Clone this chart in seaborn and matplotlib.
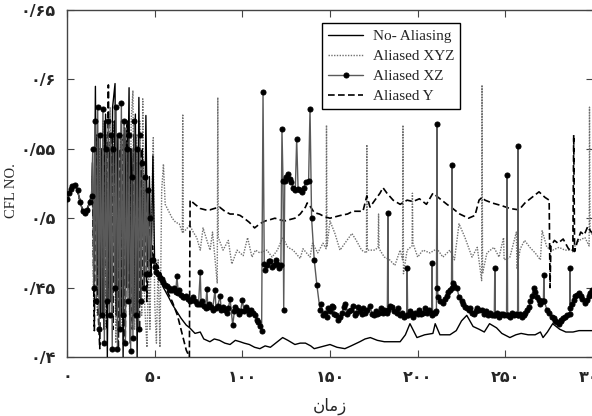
import matplotlib
matplotlib.use("Agg")
import matplotlib.pyplot as plt
import seaborn as sns

# ---- data (time vs CFL number) ----
start_x = [0, 1, 2, 3, 4.5, 6, 7.5, 9, 10, 11.5, 13, 14]
start_y = [0.514, 0.518, 0.521, 0.523, 0.524, 0.52, 0.512, 0.505, 0.504, 0.506, 0.512, 0.516]

# No- Aliasing (solid)
na_x = start_x + [14.5, 15.5, 16.2, 17, 18, 19, 20, 21, 22, 23, 24, 25, 26, 27.4, 28, 29, 30, 31, 32, 33,
                  34, 35.4, 36, 37, 38, 39, 40, 41, 42, 43, 44, 45, 46, 47, 48, 49, 50,
                  52, 55, 58, 60, 63, 65, 68, 70, 73, 76, 78, 81.5, 84, 87, 90, 93, 96, 98.7, 101,
                  104, 107, 110, 113, 116, 120, 123, 126, 130, 133, 136, 139, 141, 144, 147, 150,
                  154, 158.5, 162, 167, 170, 173, 177, 181, 185, 190, 193, 195.6, 199.6, 204, 208.7,
                  210, 212.7, 218.4, 222, 225, 228, 231.6, 235, 238, 241, 245, 248, 252.6, 256,
                  259, 263, 267, 270, 271.5, 274, 277, 281, 284.5, 288.6, 292, 296.5, 302]
na_y = start_y + [0.54, 0.47, 0.595, 0.45, 0.56, 0.43, 0.55, 0.42, 0.575, 0.40, 0.55, 0.44, 0.58, 0.597,
                  0.43, 0.56, 0.42, 0.57, 0.40, 0.565, 0.45, 0.594, 0.41, 0.55, 0.43, 0.575, 0.40,
                  0.587, 0.44, 0.55, 0.45, 0.574, 0.47, 0.53, 0.46, 0.545, 0.465,
                  0.458, 0.45, 0.443, 0.438, 0.432, 0.428, 0.423, 0.421, 0.417, 0.418, 0.413, 0.411,
                  0.413, 0.412, 0.41, 0.409, 0.412, 0.411, 0.41, 0.409, 0.407, 0.406, 0.408, 0.407,
                  0.411, 0.414, 0.412, 0.409, 0.41, 0.41, 0.408, 0.406, 0.407, 0.408, 0.409,
                  0.407, 0.406, 0.408, 0.411, 0.413, 0.414, 0.412, 0.411, 0.411, 0.411, 0.416,
                  0.424, 0.414, 0.416, 0.417, 0.424, 0.416, 0.416, 0.419, 0.426, 0.43, 0.422, 0.42,
                  0.418, 0.424, 0.421, 0.417, 0.414, 0.416, 0.417, 0.416, 0.416, 0.418, 0.414,
                  0.418, 0.424, 0.42, 0.418, 0.418, 0.419, 0.419, 0.419]

# Aliased XYZ (dotted)
xyz_x = start_x + [14.4, 15.2, 16.5, 17.3, 18.6, 19.5, 20.7, 21.6, 22.5, 23.7, 24.6, 25.5, 26.7, 27.8, 28.6,
                   29.7, 30.6, 31.5, 32.7, 33.6, 34.5, 35.7, 36.6, 37.6, 38.6, 39.7, 40.6, 41.5, 42.6,
                   43.2, 44.2, 45.6, 46.5, 47.3, 48.2, 49.2,
                   50, 51, 52, 53, 54, 55, 56, 58, 60, 62, 64, 65.8, 66, 66.3, 68, 70, 72, 74, 76, 77.6,
                   79.8, 81.6, 83, 85.7, 86, 86.3, 89, 92, 94, 97, 98.7, 100.5, 103, 105.5, 107.5,
                   110, 114, 117, 120, 123, 126, 129, 133, 134.6, 138.6, 140, 143, 146, 147.8, 148,
                   148.3, 150, 152.8, 155.7, 158.5, 162.5, 165, 168, 170.8, 171, 171.3, 173, 175.6,
                   177.4, 177.7, 178, 181, 184, 187, 190, 191.4, 191.6, 191.9, 194, 196.8, 197, 197.3,
                   200, 203, 207, 211, 214.4, 218.4, 221, 223.6, 227, 231, 234, 236.5, 236.7, 237,
                   239.5, 243.5, 246.4, 249, 249.3, 252.6, 256.3, 256.6, 258.5, 261, 264, 267, 270,
                   271, 273.7, 277, 280.6, 284, 288, 292, 295.4, 297.8, 298, 298.3, 302]
xyz_y = start_y + [0.53, 0.44, 0.56, 0.43, 0.55, 0.45, 0.57, 0.42, 0.56, 0.44, 0.58, 0.43, 0.57, 0.41, 0.55,
                   0.44, 0.56, 0.42, 0.57, 0.45, 0.55, 0.43, 0.57, 0.592, 0.42, 0.56, 0.44, 0.57, 0.43,
                   0.586, 0.44, 0.407, 0.47, 0.42, 0.50, 0.558,
                   0.44, 0.41, 0.47, 0.407, 0.52, 0.539, 0.51, 0.505, 0.50, 0.497, 0.496, 0.49, 0.575,
                   0.49, 0.492, 0.495, 0.49, 0.486, 0.477, 0.493, 0.484, 0.477, 0.49, 0.453, 0.587,
                   0.486, 0.477, 0.484, 0.467, 0.477, 0.475, 0.473, 0.486, 0.472, 0.477, 0.475, 0.477,
                   0.472, 0.477, 0.486, 0.479, 0.477, 0.471, 0.478, 0.472, 0.482, 0.475, 0.482, 0.478,
                   0.567, 0.48, 0.498, 0.489, 0.477, 0.482, 0.489, 0.484, 0.477, 0.475, 0.553, 0.477,
                   0.477, 0.477, 0.479, 0.503, 0.478, 0.472, 0.47, 0.466, 0.477, 0.47, 0.567, 0.46,
                   0.477, 0.48, 0.518, 0.482, 0.472, 0.477, 0.475, 0.478, 0.472, 0.477, 0.47, 0.496,
                   0.486, 0.472, 0.479, 0.455, 0.596, 0.46, 0.475, 0.479, 0.472, 0.486, 0.47, 0.472,
                   0.49, 0.464, 0.478, 0.484, 0.479, 0.475, 0.47, 0.491, 0.479, 0.477, 0.479, 0.477,
                   0.477, 0.484, 0.486, 0.48, 0.58, 0.49, 0.485]

# Aliased XZ (line with dots); the flat stretches are read as a jittery band
xz_x = start_x + [14.7, 15.3, 16, 16.8, 17.5, 18.3, 19, 19.8, 20.5, 21.3, 22, 22.8, 23.5, 24.3, 25, 25.8,
                  26.5, 27.3, 28, 28.8, 29.5, 30.3, 31, 31.8, 32.5, 33.3, 34, 34.8, 35.5, 36.3, 37, 37.6,
                  38.4, 39.2, 40, 40.8, 41.5, 42.3, 43, 43.8, 44.5, 45.3, 46, 46.8, 47.5, 48.3, 49,
                  50, 51, 52, 53, 54, 55, 56, 57, 58, 59,
                  60, 61, 62, 62.7, 63.5, 64, 65, 66, 67, 68,
                  69, 70, 71, 72, 73, 74, 75, 76, 76.5, 77,
                  78, 79, 79.8, 80.3, 81, 82, 83, 84.4, 85, 86,
                  87.3, 88, 89, 90, 91, 92, 93, 94.5, 95.5, 96,
                  97, 98, 99, 100, 101, 102, 103, 104, 105, 106,
                  107, 108.5, 109, 110, 111, 111.8, 112.5, 113, 114, 115,
                  116, 117, 118, 119, 120, 121, 122, 122.6, 123.2, 123.6,
                  124.2, 125, 126, 127, 128, 129, 130.2, 131, 131.8, 133,
                  134, 135, 136.5, 137.8, 138.6, 139.5, 141, 142.5, 144.3, 145,
                  146, 147, 148.3, 149, 150, 151, 151.7, 152.5, 153.5, 154.5,
                  155.7, 157, 158, 158.5, 159.5, 161, 162, 163, 164, 165,
                  166, 167, 168, 169, 170, 171, 172.8, 174, 175, 176,
                  177, 178, 179, 180.2, 181, 182.7, 183, 183.3, 184, 185.3,
                  186.5, 188, 189, 190, 191, 192, 193.7, 194, 194.3, 195.5,
                  196.5, 197.3, 198.5, 200, 201, 202, 203, 204, 205.3, 206.5,
                  208, 208.2, 208.5, 209.9, 210.7, 211, 211.3, 211.6, 213, 214.4,
                  215.5, 216.5, 217.5, 218.4, 219.3, 219.6, 219.9, 221, 222.4, 223.6,
                  225, 226, 227, 228, 229, 230, 231, 232, 233, 234,
                  235, 236.7, 238, 239, 240, 241.2, 242.5, 243.7, 244, 244.3,
                  245.5, 246.4, 247.5, 248.5, 249.5, 250.7, 251, 251.3, 252.6, 254,
                  255, 256, 257, 257.2, 257.5, 258.5, 259.5, 260.5, 261.5, 262.5,
                  263.5, 264.3, 265, 266.3, 267, 268, 269, 270, 271, 271.7,
                  272, 272.3, 273.7, 275, 276.6, 277.5, 278.5, 279.5, 280.6, 281.5,
                  282, 283, 284, 285, 286.7, 286.9, 287.1, 288, 289, 290,
                  291, 292, 293, 294, 295.4, 296.5, 297.5, 298.5, 299.4, 303]
xz_y = start_y + [0.55, 0.45, 0.57, 0.44, 0.58, 0.42, 0.56, 0.43, 0.579, 0.41, 0.55, 0.44, 0.57, 0.43, 0.56,
                  0.406, 0.55, 0.45, 0.58, 0.406, 0.56, 0.42, 0.583, 0.43, 0.57, 0.41, 0.55, 0.44, 0.56,
                  0.404, 0.53, 0.414, 0.57, 0.43, 0.55, 0.42, 0.56, 0.44, 0.54, 0.45, 0.53, 0.46, 0.52,
                  0.46, 0.5, 0.47, 0.47,
                  0.465, 0.461, 0.46, 0.457, 0.456, 0.454, 0.452, 0.451, 0.45, 0.448,
                  0.448, 0.45, 0.447, 0.458, 0.446, 0.448, 0.445, 0.443, 0.443, 0.444,
                  0.442, 0.44, 0.441, 0.443, 0.44, 0.438, 0.438, 0.461, 0.438, 0.44,
                  0.437, 0.435, 0.449, 0.436, 0.438, 0.436, 0.434, 0.448, 0.435, 0.437,
                  0.444, 0.434, 0.436, 0.434, 0.432, 0.435, 0.442, 0.423, 0.433, 0.436,
                  0.434, 0.431, 0.433, 0.441, 0.433, 0.436, 0.434, 0.431, 0.434, 0.432,
                  0.43, 0.427, 0.425, 0.422, 0.419, 0.591, 0.467, 0.463, 0.466, 0.469,
                  0.469, 0.465, 0.466, 0.47, 0.467, 0.464, 0.466, 0.564, 0.527, 0.434,
                  0.527, 0.53, 0.532, 0.528, 0.526, 0.522, 0.52, 0.557, 0.521, 0.52,
                  0.519, 0.522, 0.526, 0.527, 0.579, 0.5, 0.47, 0.452, 0.434, 0.438,
                  0.43, 0.432, 0.429, 0.435, 0.433, 0.437, 0.436, 0.431, 0.43, 0.427,
                  0.429, 0.432, 0.436, 0.438, 0.431, 0.433, 0.434, 0.437, 0.43, 0.432,
                  0.436, 0.433, 0.431, 0.435, 0.432, 0.434, 0.437, 0.431, 0.43, 0.433,
                  0.431, 0.432, 0.435, 0.432, 0.434, 0.432, 0.504, 0.434, 0.437, 0.436,
                  0.433, 0.432, 0.435, 0.43, 0.432, 0.429, 0.43, 0.464, 0.43, 0.433,
                  0.431, 0.429, 0.432, 0.431, 0.434, 0.431, 0.432, 0.435, 0.432, 0.434,
                  0.43, 0.468, 0.432, 0.432, 0.433, 0.568, 0.45, 0.443, 0.44, 0.439,
                  0.442, 0.444, 0.447, 0.448, 0.45, 0.538, 0.453, 0.451, 0.45, 0.443,
                  0.44, 0.438, 0.436, 0.435, 0.434, 0.435, 0.432, 0.431, 0.433, 0.435,
                  0.434, 0.434, 0.431, 0.433, 0.43, 0.432, 0.43, 0.43, 0.464, 0.43,
                  0.432, 0.429, 0.431, 0.431, 0.43, 0.43, 0.531, 0.43, 0.429, 0.432,
                  0.43, 0.431, 0.43, 0.552, 0.43, 0.431, 0.429, 0.43, 0.432, 0.434,
                  0.436, 0.44, 0.444, 0.45, 0.447, 0.443, 0.441, 0.438, 0.44, 0.44,
                  0.459, 0.44, 0.434, 0.432, 0.429, 0.428, 0.426, 0.425, 0.424, 0.426,
                  0.427, 0.428, 0.429, 0.43, 0.431, 0.464, 0.435, 0.438, 0.441, 0.444,
                  0.445, 0.446, 0.444, 0.442, 0.439, 0.441, 0.444, 0.446, 0.448, 0.446]

# Aliased Y (dashed)
ay_x = start_x + [14.6, 15.6, 16.4, 17.5, 18.7, 19.4, 20.3, 21.5, 22.7, 23.6, 24.2, 25.3, 26.3, 27.1, 28.3,
                  29.3, 30.2, 31.3, 32.2, 33.2, 34.3, 35.2, 36.2, 37.3, 38.2, 39.3, 40.2, 41.3, 42.2,
                  43.5, 44.6, 45.5, 46.7, 47.7, 48.7, 49.6,
                  52, 55, 58, 60, 63, 66, 68, 69.8, 70.2, 73, 76, 79, 81.5, 84, 87, 90, 93, 96, 98.7,
                  101, 104, 107, 110, 113, 116, 118.6, 121, 124, 127, 130, 133, 136, 137, 139, 141,
                  144, 147, 150, 153, 156, 160, 163, 168.8, 171, 172.8, 175.6, 178.5, 180.2, 182.5,
                  186, 190, 194, 197.3, 201, 205, 208.7, 212.7, 216.7, 220, 224, 229, 232.7, 235,
                  236.7, 238.4, 242.4, 248, 252.6, 257.8, 261.2, 265.2, 269.2, 272.6, 275, 275.5,
                  276, 278, 280, 283, 286, 288.5, 289, 289.5, 291, 293, 295, 297, 299, 305]
ay_y = start_y + [0.52, 0.419, 0.56, 0.44, 0.406, 0.55, 0.43, 0.57, 0.42, 0.596, 0.45, 0.56, 0.42, 0.57,
                  0.44, 0.406, 0.55, 0.43, 0.56, 0.41, 0.57, 0.45, 0.55, 0.42, 0.56, 0.44, 0.54, 0.42,
                  0.55, 0.45, 0.52, 0.44, 0.50, 0.46, 0.48, 0.47,
                  0.465, 0.455, 0.445, 0.44, 0.43, 0.415, 0.405, 0.40, 0.513, 0.51, 0.507, 0.506,
                  0.506, 0.507, 0.508, 0.505, 0.503, 0.503, 0.502, 0.5, 0.497, 0.493, 0.496, 0.498,
                  0.499, 0.5, 0.499, 0.498, 0.499, 0.5, 0.503, 0.508, 0.511, 0.508, 0.504, 0.503,
                  0.501, 0.5, 0.501, 0.502, 0.503, 0.505, 0.505, 0.516, 0.508, 0.513, 0.518, 0.522,
                  0.518, 0.513, 0.51, 0.513, 0.512, 0.514, 0.51, 0.518, 0.514, 0.51, 0.507, 0.503,
                  0.5, 0.502, 0.513, 0.515, 0.513, 0.511, 0.509, 0.507, 0.506, 0.511, 0.515, 0.519,
                  0.515, 0.513, 0.45, 0.48, 0.484, 0.482, 0.485, 0.478, 0.476, 0.56, 0.476, 0.483,
                  0.49, 0.488, 0.494, 0.49, 0.49]

y_ticks = [0.4, 0.45, 0.5, 0.55, 0.6, 0.65]
y_labels = ["۰/۴", "۰/۴۵", "۰/۵", "۰/۵۵", "۰/۶", "۰/۶۵"]
x_ticks = [0, 50, 100, 150, 200, 250, 300]
x_labels = ["۰", "۵۰", "۱۰۰", "۱۵۰", "۲۰۰", "۲۵۰", "۳۰۰"]
# "زمان" written in shaped (presentation) forms, visual order, since matplotlib does no Arabic shaping
x_title = "\ufee5\ufe8e\ufee3\ufeaf"

sns.set_style("ticks", {"xtick.direction": "in", "ytick.direction": "in"})
plt.rcParams["font.family"] = ["DejaVu Sans"]

fig = plt.figure(figsize=(5.92, 4.16), dpi=100)
ax = fig.add_axes([67 / 592, 59 / 416, 526 / 592, 347 / 416])

sns.lineplot(x=xyz_x, y=xyz_y, ax=ax, color="#707070", lw=1.0, linestyle=(0, (1, 1)),
             estimator=None, sort=False, zorder=2)
sns.lineplot(x=ay_x, y=ay_y, ax=ax, color="black", lw=1.2, linestyle=(0, (4, 2)),
             estimator=None, sort=False, zorder=3)
sns.lineplot(x=na_x, y=na_y, ax=ax, color="black", lw=1.0, estimator=None, sort=False, zorder=4)
sns.lineplot(x=xz_x, y=xz_y, ax=ax, color="#5a5a5a", lw=1.0, marker="o", markersize=3.6,
             markerfacecolor="black", markeredgecolor="black", estimator=None, sort=False, zorder=5)

lines = ax.get_lines()
handles = [lines[2], lines[0], lines[3], lines[1]]
names = ["No- Aliasing", "Aliased XYZ", "Aliased XZ", "Aliased Y"]
leg = ax.legend(handles, names, loc="upper left", bbox_to_anchor=(0.485, 0.962), borderaxespad=0,
                fancybox=False, framealpha=1, edgecolor="black", handlelength=2.3,
                labelspacing=0.42, borderpad=0.4, handletextpad=0.6,
                prop={"family": "Liberation Serif", "size": 11})
leg.get_frame().set_linewidth(1.0)

ax.set_xlim(0, 300)
ax.set_ylim(0.4, 0.65)
ax.set_xticks(x_ticks)
ax.set_xticklabels(x_labels, fontsize=11.5, fontweight="bold")
ax.set_yticks(y_ticks)
ax.set_yticklabels(y_labels, fontsize=11.5, fontweight="bold")
ax.tick_params(axis="both", direction="in", top=True, right=True, length=5, width=0.8, color="#444")
ax.tick_params(axis="x", pad=9)
ax.tick_params(axis="y", pad=8)
for s in ax.spines.values():
    s.set_color("#444")
    s.set_linewidth(1.0)

ax.set_ylabel("CFL NO.", family="Liberation Serif", fontsize=10.5)
ax.yaxis.set_label_coords(-0.093, 0.48)
ax.set_xlabel(x_title, fontsize=12)
ax.xaxis.set_label_coords(0.5, -0.115)

fig.savefig("out.png", dpi=100)
